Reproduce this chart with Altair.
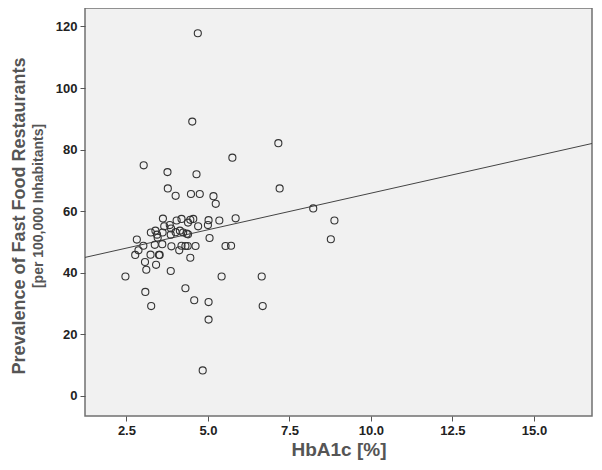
import altair as alt
import pandas as pd

hba1c = [4.69, 4.52, 7.16, 5.75, 3.03, 3.76, 4.65, 3.77, 7.20, 4.01,
         4.48, 4.75, 5.17, 5.24, 8.23, 8.88, 8.77, 5.85, 5.35, 5.02,
         5.00, 5.05, 5.54, 5.71, 5.42, 6.65, 6.68, 5.02, 5.02, 4.84,
         4.58, 4.31, 4.46, 4.62, 4.38, 4.31, 4.19, 4.12, 3.88, 3.86,
         3.60, 3.50, 3.52, 3.41, 3.37, 3.24, 3.26, 3.08, 3.11, 3.07,
         3.02, 2.87, 2.77, 2.82, 2.47, 3.25, 3.39, 3.44, 3.46, 3.61,
         3.62, 3.66, 3.83, 3.87, 3.86, 4.01, 4.04, 4.19, 4.14, 4.24,
         4.35, 4.39, 4.39, 4.46, 4.55, 4.70]
prevalence = [117.8, 89.1, 82.1, 77.4, 74.9, 72.7, 72.0, 67.4, 67.4, 65.0,
              65.6, 65.6, 64.9, 62.4, 60.9, 57.0, 50.9, 57.7, 57.0, 57.1,
              55.5, 51.3, 48.7, 48.8, 38.8, 38.8, 29.2, 30.5, 24.8, 8.3,
              31.1, 35.0, 44.9, 48.7, 48.7, 48.7, 48.8, 47.3, 48.6, 40.6,
              49.3, 45.8, 45.8, 42.6, 49.1, 45.9, 29.2, 33.8, 41.0, 43.5,
              48.8, 47.3, 45.8, 50.8, 38.8, 53.1, 53.7, 52.4, 51.4, 53.1,
              57.6, 55.1, 55.5, 54.4, 52.4, 53.2, 57.0, 57.5, 53.7, 53.1,
              52.7, 52.5, 56.3, 57.2, 57.5, 55.1]

# fit line (ends at the plot edges)
fit_x = [1.23, 16.78]
fit_y = [45.0, 82.0]

x_ticks = [2.5, 5.0, 7.5, 10.0, 12.5, 15.0]
y_ticks = [0, 20, 40, 60, 80, 100, 120]

x_title = "HbA1c [%]"
y_title = "Prevalence of Fast Food Restaurants"
y_subtitle = "[per 100,000 Inhabitants]"

pts = pd.DataFrame({"x": hba1c, "y": prevalence})
fit = pd.DataFrame({"x": fit_x, "y": fit_y})

xs = alt.Scale(domain=[1.23, 16.78], nice=False, zero=False)
ys = alt.Scale(domain=[-6.5, 126.0], nice=False, zero=False)

xaxis = alt.Axis(values=x_ticks, format=".1f", grid=False, title=x_title,
                 labelFont="Arial", labelFontSize=13, labelFontWeight="bold",
                 labelColor="#222222", tickColor="#555555", tickSize=5,
                 domain=False, labelPadding=3,
                 titleFont="Arial", titleFontSize=19, titleFontWeight="bold",
                 titleColor="#555555", titleBaseline="alphabetic", titleY=39)
yaxis = alt.Axis(values=y_ticks, grid=False, title=None,
                 labelFont="Arial", labelFontSize=13, labelFontWeight="bold",
                 labelColor="#222222", tickColor="#555555", tickSize=5,
                 domain=False, labelPadding=3)

points = alt.Chart(pts).mark_point(
    shape="circle", filled=False, size=50, stroke="#333333", strokeWidth=1.1, opacity=1
).encode(
    x=alt.X("x:Q", scale=xs, axis=xaxis),
    y=alt.Y("y:Q", scale=ys, axis=yaxis),
)

line = alt.Chart(fit).mark_line(color="#444444", strokeWidth=1, clip=True).encode(
    x=alt.X("x:Q", scale=xs),
    y=alt.Y("y:Q", scale=ys),
)

t1 = alt.Chart(pd.DataFrame({"t": [y_title]})).mark_text(
    angle=270, align="center", baseline="middle", font="Arial", fontSize=18,
    fontWeight="bold", color="#555555"
).encode(x=alt.value(-65), y=alt.value(208), text="t:N")

t2 = alt.Chart(pd.DataFrame({"t": [y_subtitle]})).mark_text(
    angle=270, align="center", baseline="middle", font="Arial", fontSize=14,
    fontWeight="bold", color="#555555"
).encode(x=alt.value(-46.5), y=alt.value(198), text="t:N")

chart = alt.layer(line, points, t1, t2).properties(
    width=507, height=408,
    autosize=alt.AutoSizeParams(type="none"),
    padding={"left": 77, "top": 0, "right": 2, "bottom": 44},
    background="white",
).configure_view(
    fill="#f1f1f1", stroke="#707070", strokeWidth=1.5
)

chart.save("out.html", embed_options={"renderer": "svg", "actions": False})
